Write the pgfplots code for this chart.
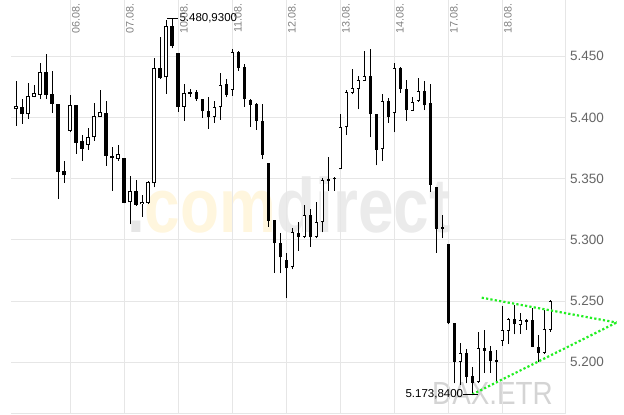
\documentclass[border=0pt]{standalone}
\usepackage{pgfplots}
\pgfplotsset{compat=1.18}
\usepackage{pgfplotstable}
\usepackage{fontspec}
\setmainfont{Liberation Sans}
\definecolor{gridc}{HTML}{E6E6E6}
\definecolor{tickc}{HTML}{666666}
\definecolor{datec}{HTML}{808080}
\definecolor{wmyel}{HTML}{FFF6DE}
\definecolor{wmgray}{HTML}{EBEBEB}
\definecolor{dotgray}{HTML}{E6E6E6}
\definecolor{daxc}{HTML}{D4D4D4}
\definecolor{trend}{HTML}{22EE22}
\pgfplotstableread{
i o h l c
0 5406.7 5429.8 5393.3 5409.4
1 5408.3 5415.1 5394.7 5402.6
2 5402.6 5427.9 5399.1 5417.3
3 5417.0 5426.3 5416.5 5419.8
4 5418.7 5444.5 5415.1 5437.2
5 5437.2 5451.9 5415.1 5418.7
6 5418.9 5438.0 5404.0 5411.3
7 5410.8 5410.8 5333.4 5355.8
8 5356.0 5364.2 5346.8 5352.8
9 5389.3 5418.1 5387.9 5410.0
10 5410.0 5410.0 5370.5 5379.5
11 5380.8 5386.0 5364.5 5374.6
12 5377.8 5391.4 5373.7 5384.1
13 5383.8 5411.6 5381.1 5401.0
14 5400.7 5422.5 5400.7 5404.2
15 5403.4 5413.2 5360.7 5368.8
16 5368.8 5376.2 5340.2 5366.7
17 5366.4 5377.5 5364.8 5369.9
18 5366.9 5366.9 5329.9 5330.4
19 5330.7 5352.2 5312.7 5339.7
20 5339.7 5349.0 5328.0 5328.8
21 5329.1 5336.7 5319.0 5331.3
22 5330.4 5348.1 5329.3 5347.3
23 5346.2 5448.3 5343.0 5440.2
24 5440.2 5466.0 5431.7 5432.6
25 5432.8 5479.7 5419.5 5474.8
26 5474.8 5480.93 5456.5 5458.7
27 5452.4 5452.4 5404.8 5408.9
28 5408.9 5427.4 5397.4 5419.8
29 5420.8 5423.6 5417.0 5419.2
30 5420.8 5422.5 5413.8 5414.9
31 5415.4 5415.4 5399.9 5405.1
32 5405.3 5416.5 5390.9 5400.1
33 5400.1 5413.5 5395.8 5408.6
34 5408.3 5436.1 5398.0 5426.3
35 5427.1 5431.2 5416.5 5418.4
36 5422.7 5455.7 5417.6 5453.2
37 5453.2 5454.6 5438.3 5440.7
38 5441.0 5443.7 5408.9 5414.9
39 5414.6 5415.1 5392.3 5410.5
40 5411.0 5411.6 5390.1 5397.4
41 5396.9 5410.8 5366.1 5369.6
42 5362.6 5362.6 5310.8 5315.7
43 5316.3 5316.3 5273.3 5297.2
44 5297.2 5305.4 5272.7 5285.8
45 5283.6 5289.0 5252.3 5276.8
46 5277.6 5310.0 5276.0 5306.2
47 5305.4 5314.9 5291.2 5302.7
48 5302.7 5328.5 5301.3 5320.4
49 5320.4 5325.0 5294.5 5302.1
50 5302.1 5331.3 5301.3 5314.4
51 5314.4 5350.3 5306.2 5349.0
52 5349.5 5368.0 5340.2 5348.4
53 5350.3 5351.1 5340.2 5349.5
54 5357.7 5402.9 5357.7 5392.5
55 5392.0 5422.5 5385.7 5420.6
56 5420.3 5439.4 5418.9 5423.8
57 5423.6 5433.9 5406.7 5430.4
58 5430.1 5454.3 5430.1 5433.6
59 5433.6 5455.7 5383.8 5402.6
60 5402.6 5402.6 5360.9 5373.5
61 5374.0 5419.2 5364.8 5413.5
62 5413.5 5416.2 5395.8 5400.7
63 5403.4 5444.5 5387.9 5440.2
64 5440.2 5441.5 5420.3 5423.0
65 5423.0 5430.6 5397.4 5406.1
66 5405.6 5416.5 5405.6 5412.9
67 5413.5 5432.0 5412.9 5421.9
68 5421.9 5429.8 5406.1 5409.9
69 5412.1 5427.1 5339.5 5344.9
70 5343.5 5343.5 5289.6 5309.0
71 5310.9 5320.4 5301.3 5309.2
72 5296.4 5296.4 5231.1 5231.9
73 5231.9 5232.5 5182.9 5200.6
74 5200.6 5215.6 5181.5 5207.4
75 5207.4 5210.7 5182.9 5188.3
76 5188.9 5196.0 5173.84 5183.4
77 5183.7 5225.1 5183.4 5211.5
78 5211.5 5226.5 5191.6 5209.3
79 5209.3 5213.7 5191.6 5201.1
80 5202.0 5210.1 5182.9 5200.6
81 5217.7 5246.1 5213.7 5226.5
82 5225.9 5236.0 5214.8 5235.2
83 5235.2 5246.9 5222.9 5231.1
84 5230.5 5240.1 5223.2 5234.6
85 5234.6 5235.2 5226.5 5233.3
86 5234.6 5244.2 5212.3 5212.8
87 5212.3 5222.4 5200.6 5208.0
88 5208.0 5242.8 5206.9 5227.0
89 5226.5 5251.0 5225.1 5250.4
}\candles
\tikzset{
  datelab/.style={rotate=90, anchor=north east, inner sep=0pt, text=datec,
    font=\fontsize{10.8}{10.8}\selectfont},
}
\begin{document}
\begin{tikzpicture}[x=1pt,y=1pt]
% watermarks
\node[anchor=base west, inner sep=0, xscale=0.83,
  font=\fontsize{77}{77}\bfseries\selectfont] at (127,182)
  {\textcolor{dotgray}{.}\textcolor{wmyel}{com}\textcolor{wmgray}{direct}};
\node[anchor=base west, inner sep=0, xscale=0.87,
  font=\fontsize{32}{32}\selectfont, text=daxc] at (432,10.5) {DAX.ETR};
\begin{axis}[at={(11pt,1pt)}, anchor=south west, scale only axis,
  width=554.3pt, height=414pt,
  xmin=-0.883, xmax=91.5, ymin=5157.8, ymax=5496.0,
  clip=false,
  axis x line*=bottom, axis y line*=right,
  axis line style={draw=gridc, line width=1pt, -},
  xtick={9,18,27,36,45,54,63,72,81}, xticklabel=\empty,
  ytick={5200,5250,5300,5350,5400,5450},
  scaled y ticks=false,
  grid=major, grid style={draw=gridc, line width=1pt},
  major tick length=0pt,
  yticklabel pos=right,
  yticklabel style={anchor=west, inner sep=0pt, xshift=4.7pt, text=tickc,
    font=\fontsize{13.5}{13.5}\selectfont},
  /pgf/number format/.cd, 1000 sep={.}, assume math mode=true]
% wicks
\addplot[draw=none, mark=none,
  error bars/.cd, y dir=plus, y explicit, error mark=none,
  error bar style={draw=black, line width=1pt}]
  table[x=i, y=l, y error plus expr=\thisrow{h}-\thisrow{l}] \candles;
% bodies: black outline / full black
\addplot[draw=none, mark=none,
  error bars/.cd, y dir=plus, y explicit, error mark=none,
  error bar style={draw=black, line width=3.6pt}]
  table[x=i, y expr={min(\thisrow{o},\thisrow{c})},
    y error plus expr={max(abs(\thisrow{c}-\thisrow{o}),1.0)}] \candles;
% white interior of rising candles
\addplot[draw=none, mark=none,
  error bars/.cd, y dir=plus, y explicit, error mark=none,
  error bar style={draw=white, line width=1.8pt}]
  table[x=i, y expr={\thisrow{o}+0.74},
    y error plus expr={max(\thisrow{c}-\thisrow{o}-1.48,0)}] \candles;
% trend lines
\addplot[trend, line width=2.2pt, dash pattern=on 2.2pt off 2.2pt] coordinates {(77.57,5252.8) (100.05,5232.5)};
\addplot[trend, line width=2.2pt, dash pattern=on 2.2pt off 2.2pt] coordinates {(76,5173.84) (100.05,5232.5)};
% high / low markers
\addplot[black, line width=0.8pt] coordinates {(25.17,5480.93) (27.0,5480.93)};
\addplot[black, line width=0.8pt] coordinates {(74.5,5173.84) (77.0,5173.84)};
\node[anchor=west, inner sep=0pt, font=\fontsize{11.5}{11.5}\selectfont] at (axis cs:27.17,5480.93) {5.480,9300};
\node[anchor=east, inner sep=0pt, font=\fontsize{11.5}{11.5}\selectfont] at (axis cs:74.5,5173.84) {5.173,8400};
\node[datelab] at (axis cs:9.28,5493.5) {06.08.};
\node[datelab] at (axis cs:18.28,5493.5) {07.08.};
\node[datelab] at (axis cs:27.28,5493.5) {10.08.};
\node[datelab] at (axis cs:36.28,5493.5) {11.08.};
\node[datelab] at (axis cs:45.28,5493.5) {12.08.};
\node[datelab] at (axis cs:54.28,5493.5) {13.08.};
\node[datelab] at (axis cs:63.28,5493.5) {14.08.};
\node[datelab] at (axis cs:72.28,5493.5) {17.08.};
\node[datelab] at (axis cs:81.28,5493.5) {18.08.};
\end{axis}
\pgfresetboundingbox
\path[use as bounding box] (0,0) rectangle (624,415);
\end{tikzpicture}
\end{document}
